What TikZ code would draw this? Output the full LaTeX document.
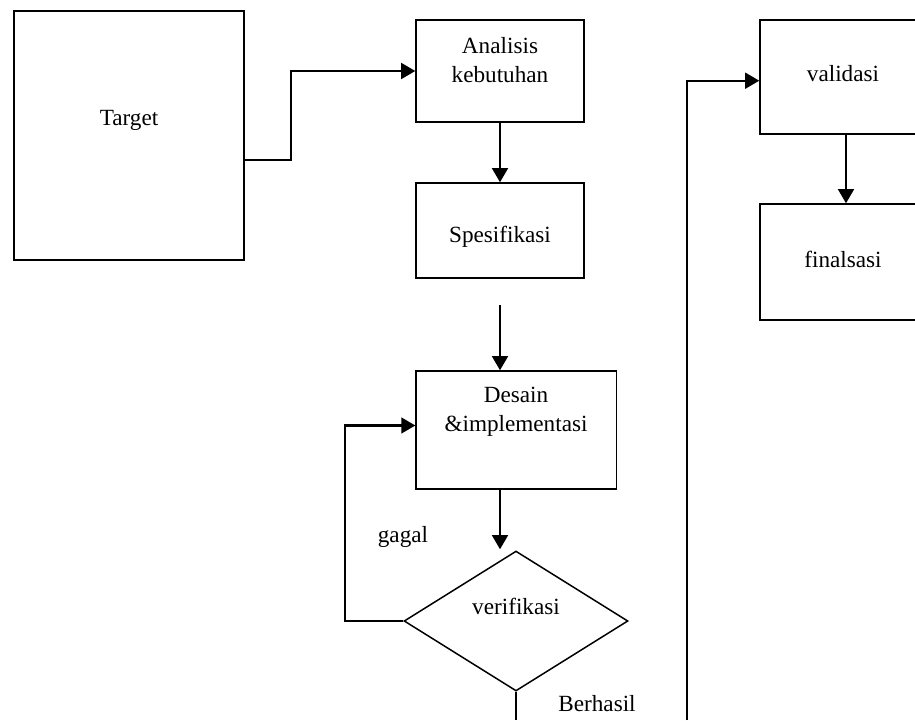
\documentclass[tikz,border=0pt]{standalone}
\usepackage{fontspec}
\setmainfont{Liberation Serif}
\usetikzlibrary{shapes.geometric, arrows.meta, positioning, calc}

\begin{document}
\begin{tikzpicture}[x=0.02cm, y=-0.02cm,
    kotak/.style={rectangle, draw=black, line width=0.85pt, inner sep=0pt},
    panah/.style={line width=1.2pt, -{Triangle[length=8pt, width=9pt]}},
    teks/.style={font=\fontsize{13.2}{16.4}\selectfont, align=center, inner sep=0pt}]
    \clip (0,0) rectangle (915,720);

    % Target
    \node[kotak, minimum width=4.6cm, minimum height=4.98cm] (target) at (129,135.3) {};
    \node[teks] (ttarget) at (129,120) {Target};

    % Kolom tengah
    \node[kotak, minimum width=3.36cm, minimum height=2.04cm] (analisis) at (500,71) {};
    \node[teks] (tanalisis) at (500,60) {Analisis\\kebutuhan};
    \node[kotak, minimum width=3.36cm, minimum height=1.9cm] (spek) at (500,230.5) {};
    \node[teks] (tspek) at (500,237) {Spesifikasi};
    \node[kotak, minimum width=4.01cm, minimum height=2.36cm] (desain) at (516.3,430) {};
    \node[teks] (tdesain) at (516,412) {Desain\\\&implementasi};
    \node[diamond, draw=black, line width=0.85pt, inner sep=0pt, aspect=1.6,
          minimum width=4.48cm, minimum height=2.8cm] (verif) at (516,621) {};
    \node[teks] (tverif) at (516,606) {verifikasi};
    \node[teks] (gagal) at (403,537) {gagal};
    \node[teks] (berhasil) at (597,704) {Berhasil};

    % Kolom kanan
    \node[kotak, minimum width=3.44cm, minimum height=2.28cm] (validasi) at (846,77.2) {};
    \node[teks] (tvalidasi) at (843,74) {validasi};
    \node[kotak, minimum width=3.44cm, minimum height=2.32cm] (final) at (846,262) {};
    \node[teks] (tfinal) at (843,259) {finalsasi};

    \coordinate (awal) at (500,305);
    \coordinate (bawah) at (516,720);
    \coordinate (ujung) at (687.3,720);

    % Penghubung
    \draw[panah] ($(target.east)+(0,25)$) -- ++(46,0) |- (analisis.west);
    \draw[panah] (analisis.south) -- (spek.north);
    \draw[panah] (awal) -- (awal |- desain.north);
    \draw[panah] (desain.south -| awal) -- ($(awal |- verif.north)+(0,-1)$);
    \draw[panah] (verif.west) -- ++(-58,0) |- ($(desain.west)+(0,-4.5)$);
    \draw[line width=0.85pt] (verif.south) -- (bawah);
    \draw[panah] (ujung) |- ($(validasi.west)+(0,3.5)$);
    \draw[panah] (validasi.south) -- (final.north);
\end{tikzpicture}
\end{document}
